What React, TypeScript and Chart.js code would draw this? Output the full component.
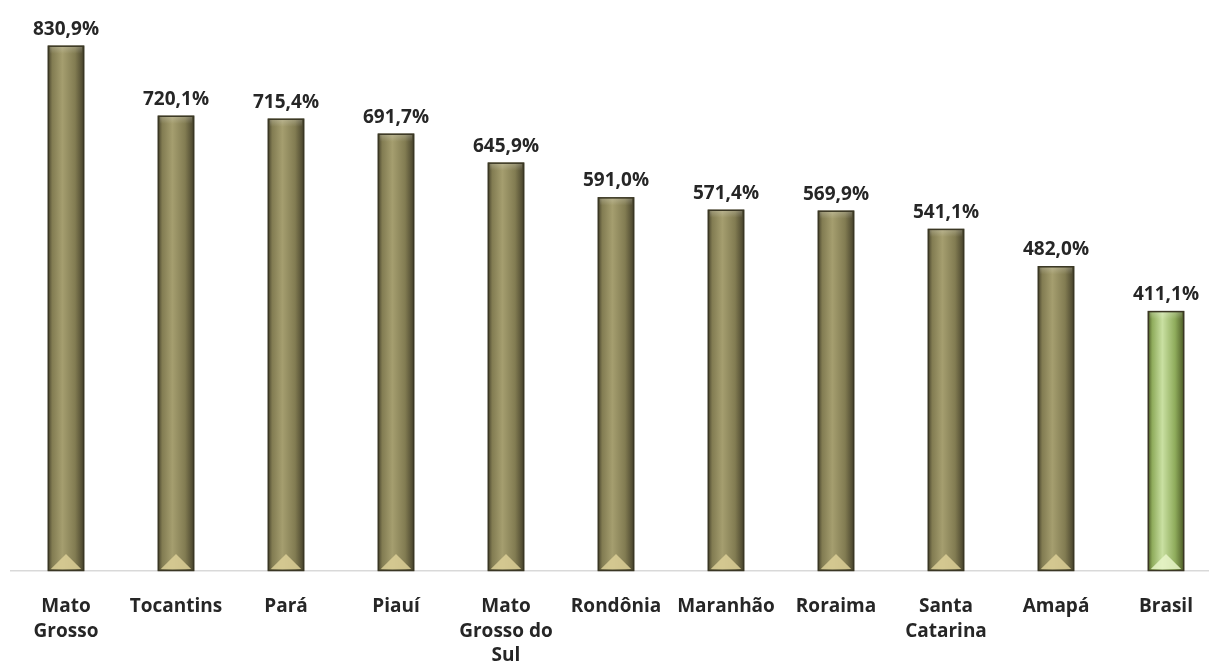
import React, { useRef, useEffect } from "react";
import { Chart, registerables, Plugin } from "chart.js";

Chart.register(...registerables);

const states: string[][] = [
  ["Mato", "Grosso"],
  ["Tocantins"],
  ["Pará"],
  ["Piauí"],
  ["Mato", "Grosso do", "Sul"],
  ["Rondônia"],
  ["Maranhão"],
  ["Roraima"],
  ["Santa", "Catarina"],
  ["Amapá"],
  ["Brasil"],
];
const growth: number[] = [830.9, 720.1, 715.4, 691.7, 645.9, 591.0, 571.4, 569.9, 541.1, 482.0, 411.1];
const yMax = 900;

const FONT = "'Open Sans', sans-serif";
const TEXT = "#262626";

const olive = { edge: "#45412b", mid: "#827c52", light: "#a59e6f", tip: "#dccf96" };
const green = { edge: "#4c5a26", mid: "#8fac5c", light: "#c9e0a2", tip: "#e8f5c8" };

const fmt = (v: number) => v.toFixed(1).replace(".", ",") + "%";

// bevelled look drawn over each bar
const bevel: Plugin = {
  id: "bevel",
  afterDatasetsDraw(chart) {
    const ctx = chart.ctx;
    const meta = chart.getDatasetMeta(0);
    meta.data.forEach((bar: any, i) => {
      const p = i === growth.length - 1 ? green : olive;
      const { x, y, width, base } = bar.getProps(["x", "y", "width", "base"], true);
      const l = x - width / 2;
      const r = x + width / 2;
      ctx.save();
      const g = ctx.createLinearGradient(l, 0, r, 0);
      g.addColorStop(0, p.edge);
      g.addColorStop(0.12, p.mid);
      g.addColorStop(0.4, p.light);
      g.addColorStop(0.75, p.mid);
      g.addColorStop(1, p.edge);
      ctx.fillStyle = g;
      ctx.fillRect(l, y, width, base - y);
      // top cap
      const tg = ctx.createLinearGradient(0, y, 0, y + 8);
      tg.addColorStop(0, "rgba(255,255,255,0.25)");
      tg.addColorStop(1, "rgba(255,255,255,0)");
      ctx.fillStyle = tg;
      ctx.fillRect(l + 2, y + 1, width - 4, 8);
      // bottom triangle
      ctx.beginPath();
      ctx.moveTo(l + 3, base - 2);
      ctx.lineTo(x, base - 17);
      ctx.lineTo(r - 3, base - 2);
      ctx.closePath();
      ctx.fillStyle = p.tip;
      ctx.globalAlpha = 0.85;
      ctx.fill();
      ctx.globalAlpha = 1;
      ctx.strokeStyle = "#3a3724";
      ctx.lineWidth = 1.5;
      ctx.strokeRect(l + 0.5, y + 0.5, width - 1, base - y - 1);
      ctx.restore();
    });
  },
};

const valueLabels: Plugin = {
  id: "valueLabels",
  afterDatasetsDraw(chart) {
    const ctx = chart.ctx;
    const meta = chart.getDatasetMeta(0);
    ctx.save();
    ctx.font = `bold 19px ${FONT}`;
    ctx.fillStyle = TEXT;
    ctx.textAlign = "center";
    ctx.textBaseline = "alphabetic";
    meta.data.forEach((bar: any, i) => {
      ctx.fillText(fmt(growth[i]), bar.x, bar.y - 11);
    });
    ctx.restore();
  },
};

export default function App() {
  const canvas = useRef<HTMLCanvasElement>(null);
  const chart = useRef<Chart>();

  useEffect(() => {
    document.body.style.margin = "0";
    document.body.style.overflow = "hidden";
    const ctx = canvas.current!.getContext("2d");
    if (!ctx) return;

    chart.current = new Chart(ctx, {
      type: "bar",
      data: {
        labels: states,
        datasets: [
          {
            data: growth,
            backgroundColor: "rgba(0,0,0,0)",
            barPercentage: 0.33,
            categoryPercentage: 1,
          },
        ],
      },
      options: {
        animation: false,
        responsive: false,
        layout: { padding: { left: 11, right: 9, top: 2, bottom: 0 } },
        plugins: {
          legend: { display: false },
          tooltip: { enabled: false },
        },
        scales: {
          x: {
            grid: { display: false, drawTicks: false },
            border: { display: true, color: "#d9d9d9", width: 1.5 },
            afterFit(scale) {
              scale.height = 94;
            },
            ticks: {
              padding: 24,
              maxRotation: 0,
              autoSkip: false,
              color: TEXT,
              font: { family: FONT, size: 19, weight: "bold", lineHeight: 1.27 },
            },
          },
          y: {
            display: false,
            min: 0,
            max: yMax,
          },
        },
      },
      plugins: [bevel, valueLabels],
    });

    return () => {
      chart.current!.destroy();
    };
  }, []);

  return (
    <div style={{ position: "fixed", left: 0, top: 0, width: 1209, height: 665, overflow: "hidden", background: "#fff" }}>
      <canvas ref={canvas} width={1230} height={665} style={{ width: 1230, height: 665 }} />
    </div>
  );
}
